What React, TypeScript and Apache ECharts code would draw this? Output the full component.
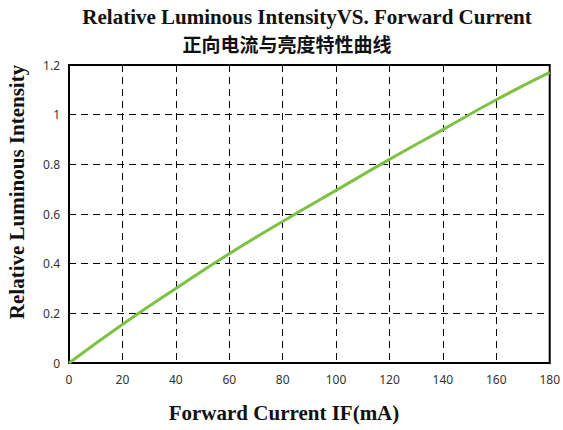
import React, { useEffect, useRef } from "react";
import * as echarts from "echarts";

const currents = [0, 20, 40, 60, 80, 100, 120, 140, 160, 180];
const intensity = [0, 0.155, 0.3, 0.44, 0.57, 0.695, 0.82, 0.94, 1.06, 1.17];
const titleEn = "Relative Luminous IntensityVS. Forward Current";
const titleZh = "正向电流与亮度特性曲线";
const xName = "Forward Current IF(mA)";
const yName = "Relative Luminous Intensity";

export default function App() {
  const ref = useRef<HTMLDivElement>(null);
  useEffect(() => {
    const chart = echarts.init(ref.current!, undefined, { renderer: "svg" });
    const serif = "'Liberation Serif', 'Times New Roman', serif";
    const serifBold = (size: number) => ({
      fontFamily: serif,
      fontWeight: "bold",
      fontSize: size,
      fill: "#111",
      align: "center",
      verticalAlign: "middle",
    });
    chart.setOption({
      animation: false,
      backgroundColor: "#ffffff",
      graphic: [
        { type: "text", x: 307, y: 17, style: { text: titleEn, ...serifBold(21) } },
        {
          type: "text",
          x: 287,
          y: 43,
          style: {
            text: titleZh,
            fontFamily: "'Noto Sans CJK SC'",
            fontWeight: "bold",
            fontSize: 19,
            fill: "#111",
            align: "center",
            verticalAlign: "middle",
          },
        },
        { type: "text", x: 284, y: 413, style: { text: xName, ...serifBold(21) } },
        { type: "text", x: 17, y: 192, rotation: Math.PI / 2, style: { text: yName, ...serifBold(21) } },
      ],
      grid: { left: 69, right: 9, top: 65, bottom: 67, show: true, borderColor: "#000", borderWidth: 2 },
      xAxis: {
        type: "value",
        min: 0,
        max: 180,
        interval: 20,
        axisLine: { show: true, lineStyle: { color: "#000", width: 2 } },
        axisTick: { show: false },
        axisLabel: { fontFamily: "'Noto Sans', sans-serif", fontSize: 12, color: "#333", margin: 10 },
        splitLine: { show: true, lineStyle: { color: "#000", type: [7, 5], width: 1 } },
      },
      yAxis: {
        type: "value",
        min: 0,
        max: 1.2,
        interval: 0.2,
        axisLine: { show: true, lineStyle: { color: "#000", width: 2 } },
        axisTick: { show: false },
        axisLabel: {
          fontFamily: "'Noto Sans', sans-serif",
          fontSize: 12,
          color: "#333",
          margin: 9,
          formatter: (v: number) => String(Math.round(v * 10) / 10),
        },
        splitLine: { show: true, lineStyle: { color: "#000", type: [7, 5], width: 1 } },
      },
      series: [
        {
          type: "line",
          data: currents.map((c, i) => [c, intensity[i]]),
          smooth: true,
          showSymbol: false,
          lineStyle: { color: "#7dc242", width: 3 },
        },
      ],
    });
    return () => chart.dispose();
  }, []);
  return <div ref={ref} style={{ width: 563, height: 430, position: "absolute", left: 0, top: 0 }} />;
}
